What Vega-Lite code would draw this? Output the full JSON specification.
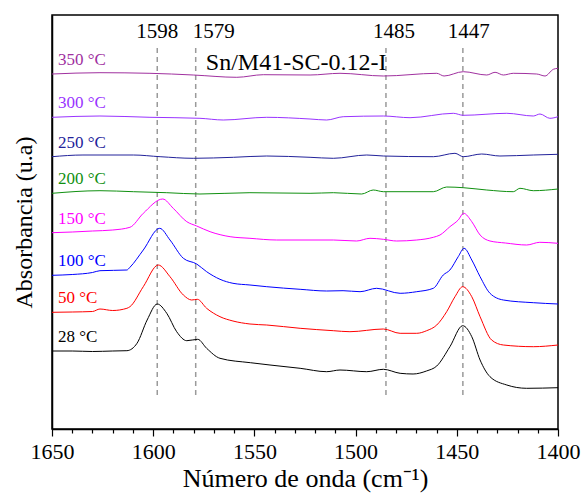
{
  "$schema": "https://vega.github.io/schema/vega-lite/v6.json",
  "width": 506,
  "height": 414,
  "autosize": {"type": "none"},
  "padding": {"left": 52, "top": 15, "right": 25, "bottom": 68},
  "background": "white",
  "config": {
    "view": {"stroke": "black", "strokeWidth": 1.5},
    "font": "Liberation Serif",
    "text": {"font": "Liberation Serif"},
    "axis": {"grid": false, "domainColor": "black", "tickColor": "black", "labelColor": "black", "titleColor": "black", "labelFont": "Liberation Serif", "titleFont": "Liberation Serif", "titleFontWeight": "normal"}
  },
  "datasets": {
    "spectra": [
      {"t":"28 °C","wn":1650,"abs":0.75},{"t":"28 °C","wn":1640,"abs":0.75},{"t":"28 °C","wn":1630,"abs":0.745},{"t":"28 °C","wn":1620,"abs":0.75},{"t":"28 °C","wn":1613,"abs":0.753},{"t":"28 °C","wn":1608,"abs":0.827},{"t":"28 °C","wn":1603,"abs":1.06},{"t":"28 °C","wn":1598,"abs":1.22},{"t":"28 °C","wn":1593.3,"abs":1.127},{"t":"28 °C","wn":1588.4,"abs":0.943},{"t":"28 °C","wn":1583.4,"abs":0.853},{"t":"28 °C","wn":1578,"abs":0.867},{"t":"28 °C","wn":1573.6,"abs":0.777},{"t":"28 °C","wn":1567,"abs":0.677},{"t":"28 °C","wn":1552,"abs":0.633},{"t":"28 °C","wn":1542.3,"abs":0.61},{"t":"28 °C","wn":1527.4,"abs":0.577},{"t":"28 °C","wn":1514.3,"abs":0.543},{"t":"28 °C","wn":1507.7,"abs":0.56},{"t":"28 °C","wn":1494.5,"abs":0.543},{"t":"28 °C","wn":1486.3,"abs":0.567},{"t":"28 °C","wn":1478,"abs":0.527},{"t":"28 °C","wn":1471.6,"abs":0.52},{"t":"28 °C","wn":1465,"abs":0.55},{"t":"28 °C","wn":1459.9,"abs":0.6},{"t":"28 °C","wn":1453.4,"abs":0.793},{"t":"28 °C","wn":1447.1,"abs":1.003},{"t":"28 °C","wn":1442.6,"abs":0.893},{"t":"28 °C","wn":1438.5,"abs":0.66},{"t":"28 °C","wn":1433.6,"abs":0.493},{"t":"28 °C","wn":1425.3,"abs":0.41},{"t":"28 °C","wn":1415.5,"abs":0.377},{"t":"28 °C","wn":1400,"abs":0.383},
      {"t":"50 °C","wn":1650,"abs":1.137},{"t":"50 °C","wn":1640,"abs":1.14},{"t":"50 °C","wn":1630,"abs":1.145},{"t":"50 °C","wn":1626.3,"abs":1.17},{"t":"50 °C","wn":1620,"abs":1.155},{"t":"50 °C","wn":1613,"abs":1.177},{"t":"50 °C","wn":1611.5,"abs":1.193},{"t":"50 °C","wn":1604.9,"abs":1.393},{"t":"50 °C","wn":1597.5,"abs":1.61},{"t":"50 °C","wn":1591.7,"abs":1.493},{"t":"50 °C","wn":1585.1,"abs":1.31},{"t":"50 °C","wn":1581,"abs":1.26},{"t":"50 °C","wn":1578.2,"abs":1.267},{"t":"50 °C","wn":1573.6,"abs":1.177},{"t":"50 °C","wn":1567,"abs":1.093},{"t":"50 °C","wn":1560.6,"abs":1.05},{"t":"50 °C","wn":1552.2,"abs":1.02},{"t":"50 °C","wn":1543.9,"abs":1.01},{"t":"50 °C","wn":1527.4,"abs":0.977},{"t":"50 °C","wn":1511,"abs":0.953},{"t":"50 °C","wn":1502.8,"abs":0.943},{"t":"50 °C","wn":1486.3,"abs":0.97},{"t":"50 °C","wn":1478,"abs":0.927},{"t":"50 °C","wn":1469.8,"abs":0.927},{"t":"50 °C","wn":1464.9,"abs":0.953},{"t":"50 °C","wn":1459.9,"abs":1.01},{"t":"50 °C","wn":1455,"abs":1.143},{"t":"50 °C","wn":1450.9,"abs":1.293},{"t":"50 °C","wn":1447.1,"abs":1.393},{"t":"50 °C","wn":1442.6,"abs":1.293},{"t":"50 °C","wn":1438.5,"abs":1.093},{"t":"50 °C","wn":1432.8,"abs":0.86},{"t":"50 °C","wn":1427,"abs":0.81},{"t":"50 °C","wn":1412.2,"abs":0.793},{"t":"50 °C","wn":1400,"abs":0.81},
      {"t":"100 °C","wn":1650,"abs":1.507},{"t":"100 °C","wn":1640,"abs":1.515},{"t":"100 °C","wn":1630,"abs":1.535},{"t":"100 °C","wn":1626.3,"abs":1.553},{"t":"100 °C","wn":1613,"abs":1.56},{"t":"100 °C","wn":1611.5,"abs":1.587},{"t":"100 °C","wn":1604.9,"abs":1.76},{"t":"100 °C","wn":1596.8,"abs":1.977},{"t":"100 °C","wn":1591.7,"abs":1.86},{"t":"100 °C","wn":1585.1,"abs":1.677},{"t":"100 °C","wn":1578.5,"abs":1.62},{"t":"100 °C","wn":1573.6,"abs":1.543},{"t":"100 °C","wn":1567,"abs":1.467},{"t":"100 °C","wn":1560.6,"abs":1.427},{"t":"100 °C","wn":1552.2,"abs":1.41},{"t":"100 °C","wn":1543.9,"abs":1.393},{"t":"100 °C","wn":1527.4,"abs":1.367},{"t":"100 °C","wn":1514.3,"abs":1.35},{"t":"100 °C","wn":1506.2,"abs":1.353},{"t":"100 °C","wn":1497.8,"abs":1.343},{"t":"100 °C","wn":1489.6,"abs":1.377},{"t":"100 °C","wn":1478,"abs":1.327},{"t":"100 °C","wn":1469.8,"abs":1.343},{"t":"100 °C","wn":1461.6,"abs":1.377},{"t":"100 °C","wn":1456.7,"abs":1.51},{"t":"100 °C","wn":1453.4,"abs":1.56},{"t":"100 °C","wn":1449.3,"abs":1.693},{"t":"100 °C","wn":1446.4,"abs":1.777},{"t":"100 °C","wn":1442.6,"abs":1.66},{"t":"100 °C","wn":1438.5,"abs":1.493},{"t":"100 °C","wn":1433.6,"abs":1.327},{"t":"100 °C","wn":1427,"abs":1.26},{"t":"100 °C","wn":1412.2,"abs":1.233},{"t":"100 °C","wn":1400,"abs":1.22},
      {"t":"150 °C","wn":1650,"abs":1.933},{"t":"150 °C","wn":1640,"abs":1.94},{"t":"150 °C","wn":1630,"abs":1.95},{"t":"150 °C","wn":1620,"abs":1.96},{"t":"150 °C","wn":1611.5,"abs":1.987},{"t":"150 °C","wn":1604.9,"abs":2.127},{"t":"150 °C","wn":1595.3,"abs":2.27},{"t":"150 °C","wn":1590.1,"abs":2.177},{"t":"150 °C","wn":1583.4,"abs":2.043},{"t":"150 °C","wn":1578.5,"abs":2.0},{"t":"150 °C","wn":1571.9,"abs":1.943},{"t":"150 °C","wn":1562,"abs":1.893},{"t":"150 °C","wn":1552.2,"abs":1.877},{"t":"150 °C","wn":1539,"abs":1.86},{"t":"150 °C","wn":1511,"abs":1.86},{"t":"150 °C","wn":1499.5,"abs":1.85},{"t":"150 °C","wn":1492.9,"abs":1.877},{"t":"150 °C","wn":1486.3,"abs":1.867},{"t":"150 °C","wn":1479.7,"abs":1.85},{"t":"150 °C","wn":1469.8,"abs":1.86},{"t":"150 °C","wn":1461.6,"abs":1.887},{"t":"150 °C","wn":1458.3,"abs":1.91},{"t":"150 °C","wn":1453.4,"abs":1.993},{"t":"150 °C","wn":1449.3,"abs":2.06},{"t":"150 °C","wn":1446.6,"abs":2.127},{"t":"150 °C","wn":1442.6,"abs":2.043},{"t":"150 °C","wn":1438.5,"abs":1.91},{"t":"150 °C","wn":1433.6,"abs":1.85},{"t":"150 °C","wn":1426,"abs":1.83},{"t":"150 °C","wn":1415.5,"abs":1.81},{"t":"150 °C","wn":1409,"abs":1.837},{"t":"150 °C","wn":1400,"abs":1.827},
      {"t":"200 °C","wn":1650,"abs":2.327},{"t":"200 °C","wn":1626.3,"abs":2.353},{"t":"200 °C","wn":1609.8,"abs":2.343},{"t":"200 °C","wn":1593.3,"abs":2.333},{"t":"200 °C","wn":1576.9,"abs":2.32},{"t":"200 °C","wn":1552.2,"abs":2.333},{"t":"200 °C","wn":1522.5,"abs":2.327},{"t":"200 °C","wn":1511,"abs":2.333},{"t":"200 °C","wn":1497,"abs":2.32},{"t":"200 °C","wn":1491.3,"abs":2.36},{"t":"200 °C","wn":1486.3,"abs":2.343},{"t":"200 °C","wn":1461.6,"abs":2.343},{"t":"200 °C","wn":1455,"abs":2.39},{"t":"200 °C","wn":1446.8,"abs":2.383},{"t":"200 °C","wn":1435.2,"abs":2.36},{"t":"200 °C","wn":1422.1,"abs":2.343},{"t":"200 °C","wn":1418.8,"abs":2.377},{"t":"200 °C","wn":1412.2,"abs":2.353},{"t":"200 °C","wn":1400,"abs":2.37},
      {"t":"250 °C","wn":1650,"abs":2.693},{"t":"250 °C","wn":1634.7,"abs":2.71},{"t":"250 °C","wn":1609.8,"abs":2.71},{"t":"250 °C","wn":1596.6,"abs":2.693},{"t":"250 °C","wn":1580.2,"abs":2.677},{"t":"250 °C","wn":1560.4,"abs":2.687},{"t":"250 °C","wn":1543.9,"abs":2.7},{"t":"250 °C","wn":1522.5,"abs":2.687},{"t":"250 °C","wn":1511,"abs":2.677},{"t":"250 °C","wn":1494.5,"abs":2.71},{"t":"250 °C","wn":1486.3,"abs":2.7},{"t":"250 °C","wn":1461.6,"abs":2.693},{"t":"250 °C","wn":1450.9,"abs":2.727},{"t":"250 °C","wn":1446.8,"abs":2.693},{"t":"250 °C","wn":1437.7,"abs":2.72},{"t":"250 °C","wn":1428.7,"abs":2.7},{"t":"250 °C","wn":1412.2,"abs":2.71},{"t":"250 °C","wn":1400,"abs":2.717},
      {"t":"300 °C","wn":1650,"abs":3.087},{"t":"300 °C","wn":1626.3,"abs":3.1},{"t":"300 °C","wn":1601.6,"abs":3.087},{"t":"300 °C","wn":1576.9,"abs":3.077},{"t":"300 °C","wn":1565.4,"abs":3.06},{"t":"300 °C","wn":1543.9,"abs":3.087},{"t":"300 °C","wn":1522.5,"abs":3.07},{"t":"300 °C","wn":1514.3,"abs":3.06},{"t":"300 °C","wn":1506.1,"abs":3.093},{"t":"300 °C","wn":1486.3,"abs":3.1},{"t":"300 °C","wn":1473.1,"abs":3.083},{"t":"300 °C","wn":1451.7,"abs":3.127},{"t":"300 °C","wn":1446.8,"abs":3.107},{"t":"300 °C","wn":1425.3,"abs":3.127},{"t":"300 °C","wn":1412.2,"abs":3.1},{"t":"300 °C","wn":1408.9,"abs":3.12},{"t":"300 °C","wn":1404,"abs":3.077},{"t":"300 °C","wn":1400,"abs":3.093},
      {"t":"350 °C","wn":1650,"abs":3.52},{"t":"350 °C","wn":1626.3,"abs":3.533},{"t":"350 °C","wn":1601.6,"abs":3.527},{"t":"350 °C","wn":1580.2,"abs":3.51},{"t":"350 °C","wn":1558.7,"abs":3.487},{"t":"350 °C","wn":1545.6,"abs":3.513},{"t":"350 °C","wn":1522.5,"abs":3.51},{"t":"350 °C","wn":1507.7,"abs":3.527},{"t":"350 °C","wn":1486.3,"abs":3.5},{"t":"350 °C","wn":1459.9,"abs":3.527},{"t":"350 °C","wn":1456.3,"abs":3.5},{"t":"350 °C","wn":1446.8,"abs":3.543},{"t":"350 °C","wn":1435.2,"abs":3.51},{"t":"350 °C","wn":1431.1,"abs":3.537},{"t":"350 °C","wn":1427,"abs":3.51},{"t":"350 °C","wn":1422.1,"abs":3.527},{"t":"350 °C","wn":1410.5,"abs":3.52},{"t":"350 °C","wn":1406.4,"abs":3.5},{"t":"350 °C","wn":1402.3,"abs":3.567},{"t":"350 °C","wn":1400,"abs":3.577}
    ],
    "peaks": [
      {"wn": 1598, "lab": "1598"},
      {"wn": 1579, "lab": "1579"},
      {"wn": 1485, "lab": "1485"},
      {"wn": 1447, "lab": "1447"}
    ]
  },
  "resolve": {"axis": {"x": "independent"}},
  "layer": [
    {
      "data": {"name": "peaks"},
      "mark": {"type": "rule", "color": "#9a9a9a", "strokeWidth": 1.5, "strokeDash": [5, 4]},
      "encoding": {
        "x": {"field": "wn", "type": "quantitative", "scale": {"domain": [1400, 1650], "reverse": true, "nice": false, "zero": false},
              "axis": {"orient": "bottom", "values": [1640,1630,1620,1610,1590,1580,1570,1560,1540,1530,1520,1510,1490,1480,1470,1460,1440,1430,1420,1410], "labels": false, "title": null, "domain": false, "tickSize": 4, "tickWidth": 1.2}},
        "y": {"datum": 0.31, "type": "quantitative"},
        "y2": {"datum": 3.79}
      }
    },
    {
      "data": {"name": "spectra"},
      "mark": {"type": "line", "interpolate": "monotone", "strokeWidth": 1},
      "encoding": {
        "x": {"field": "wn", "type": "quantitative", "scale": {"domain": [1400, 1650], "reverse": true, "nice": false, "zero": false},
              "axis": {"orient": "bottom", "values": [1650,1600,1550,1500,1450,1400], "format": "d", "labelFontSize": 22, "labelFlush": false, "labelPadding": 5, "tickSize": 7, "tickWidth": 1.2, "domainWidth": 1.5, "title": "Número de onda (cm⁻¹)", "titleFontSize": 26, "titlePadding": 3}},
        "y": {"field": "abs", "type": "quantitative", "scale": {"domain": [-0.03, 4.11], "nice": false, "zero": false},
              "axis": {"title": "Absorbancia (u.a)", "titleFontSize": 24, "labels": false, "ticks": false, "domainWidth": 1.5, "titlePadding": 16}},
        "color": {"field": "t", "type": "nominal", "legend": null,
                  "scale": {"domain": ["28 °C","50 °C","100 °C","150 °C","200 °C","250 °C","300 °C","350 °C"],
                            "range": ["#000000","#ff0000","#0000ff","#ff00ff","#109010","#22229a","#9933ff","#a0309f"]}},
        "order": {"field": "wn", "type": "quantitative", "sort": "descending"}
      }
    },
    {
      "data": {"name": "spectra"},
      "transform": [{"filter": "datum.wn == 1650"}],
      "mark": {"type": "text", "align": "left", "baseline": "middle", "fontSize": 17, "font": "Liberation Serif", "dx": 6, "dy": -14},
      "encoding": {
        "x": {"field": "wn", "type": "quantitative", "axis": null},
        "y": {"field": "abs", "type": "quantitative"},
        "text": {"field": "t"},
        "color": {"field": "t", "type": "nominal", "legend": null}
      }
    },
    {
      "data": {"name": "peaks"},
      "transform": [{"filter": "datum.wn == 1598"}],
      "mark": {"type": "text", "align": "center", "baseline": "middle", "fontSize": 21, "font": "Liberation Serif", "color": "black"},
      "encoding": {"x": {"field": "wn", "type": "quantitative", "axis": null}, "y": {"datum": 3.94}, "text": {"field": "lab"}}
    },
    {
      "data": {"name": "peaks"},
      "transform": [{"filter": "datum.wn == 1579"}],
      "mark": {"type": "text", "align": "left", "baseline": "middle", "fontSize": 21, "font": "Liberation Serif", "color": "black", "dx": -3},
      "encoding": {"x": {"field": "wn", "type": "quantitative", "axis": null}, "y": {"datum": 3.94}, "text": {"field": "lab"}}
    },
    {
      "data": {"name": "peaks"},
      "transform": [{"filter": "datum.wn == 1485"}],
      "mark": {"type": "text", "align": "center", "baseline": "middle", "fontSize": 21, "font": "Liberation Serif", "color": "black", "dx": 8},
      "encoding": {"x": {"field": "wn", "type": "quantitative", "axis": null}, "y": {"datum": 3.94}, "text": {"field": "lab"}}
    },
    {
      "data": {"name": "peaks"},
      "transform": [{"filter": "datum.wn == 1447"}],
      "mark": {"type": "text", "align": "center", "baseline": "middle", "fontSize": 21, "font": "Liberation Serif", "color": "black", "dx": 6},
      "encoding": {"x": {"field": "wn", "type": "quantitative", "axis": null}, "y": {"datum": 3.94}, "text": {"field": "lab"}}
    },
    {
      "data": {"values": [{"name": "Sn/M41-SC-0.12-I"}]},
      "mark": {"type": "text", "align": "left", "baseline": "middle", "fontSize": 24, "font": "Liberation Serif", "color": "black"},
      "encoding": {"x": {"datum": 1574, "axis": null}, "y": {"datum": 3.63}, "text": {"field": "name"}}
    }
  ]
}
